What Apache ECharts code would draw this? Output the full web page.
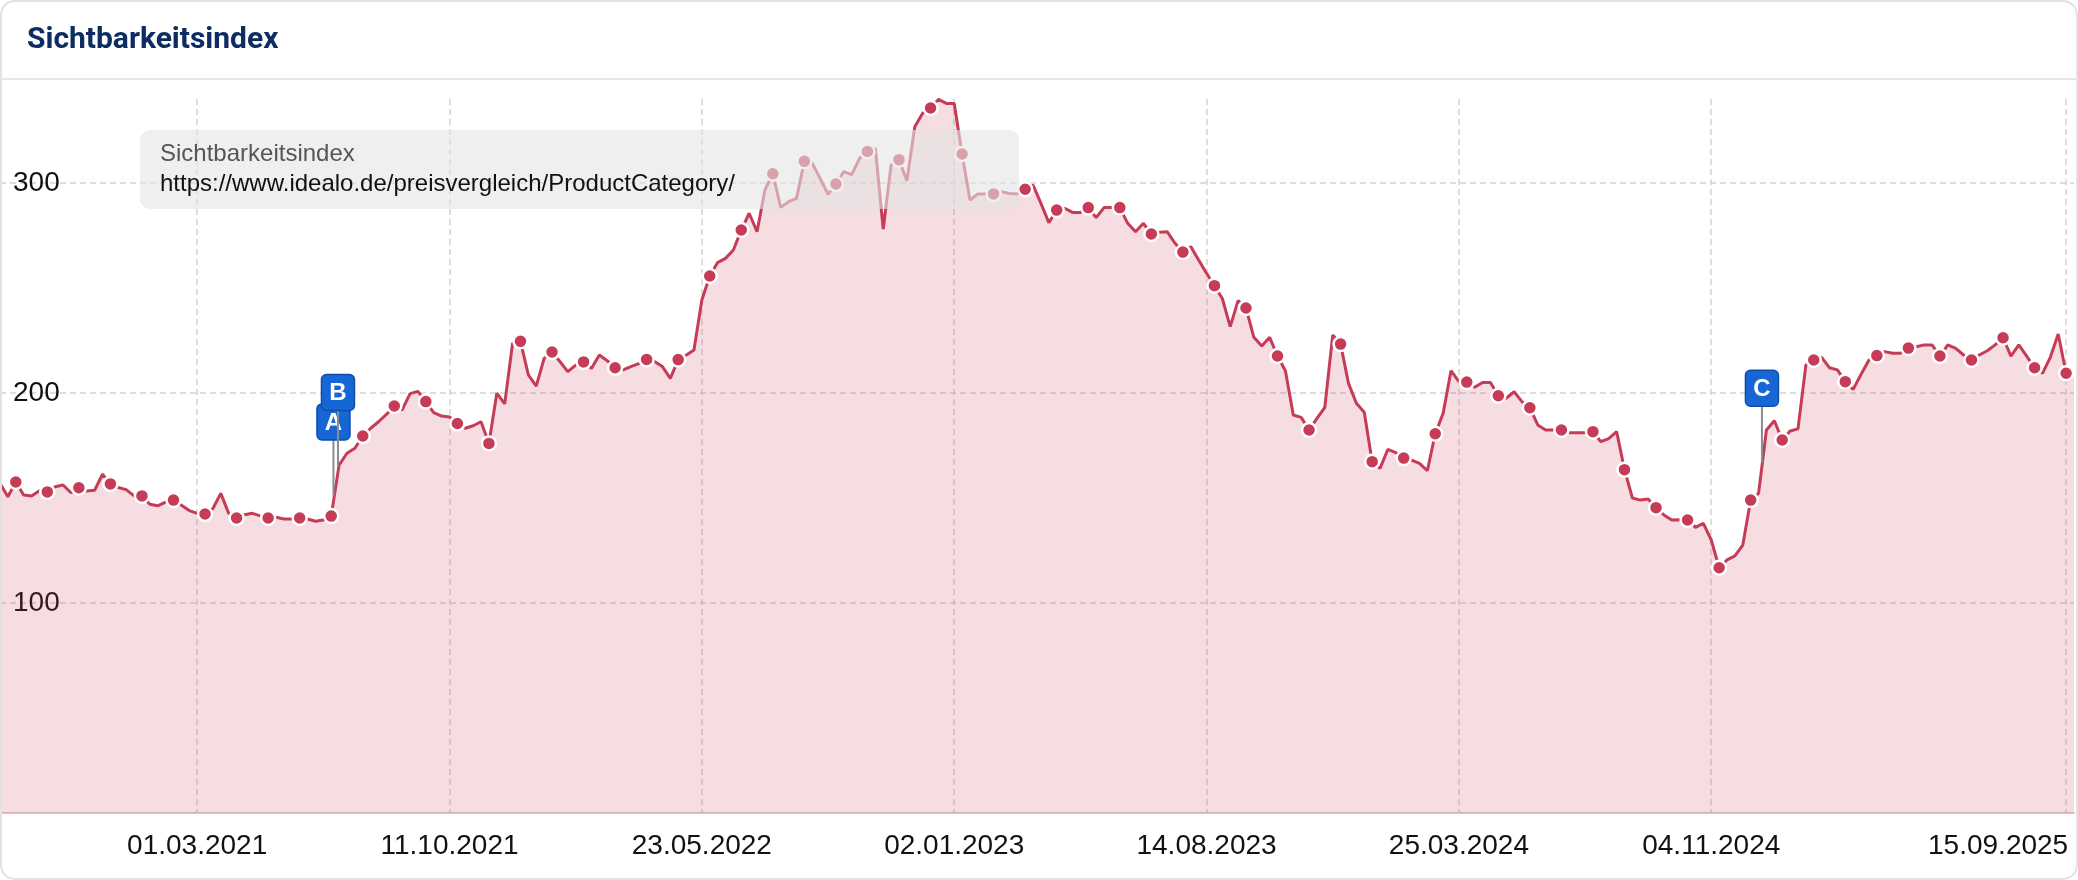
<!DOCTYPE html>
<html><head><meta charset="utf-8">
<script src="https://cdn.jsdelivr.net/npm/echarts@6/dist/echarts.min.js"></script>
<style>html,body{margin:0;padding:0;background:#fff;}#c{width:2078px;height:880px;}</style>
</head><body><div id="c"></div>
<script>
// ---- data ----
const startDate = '2020-09-07'; // first weekly data point (Monday)
const tickLabels = ['01.03.2021','11.10.2021','23.05.2022','02.01.2023','14.08.2023','25.03.2024','04.11.2024','15.09.2025'];
const values = [
157,150.6,157.6,151.4,151,153.5,152.9,155.4,156.2,152.5,
154.9,153.3,153.7,161.3,156.7,155,154,151,151,147,
146.3,148,149,146.5,144,142.7,142.4,145,152.2,142.7,
140.5,142,142.7,141.5,140.5,140.8,140,140,140.5,140,
138.9,139.5,141.4,165.7,171.3,173.7,179.5,183.2,186.3,189.8,
193.8,192,199.7,200.8,195.9,190.6,189,188.6,185.5,183.2,
184.4,186.3,176,199.9,194.8,223.7,224.6,208.6,203.3,216.5,
219.5,215,210.2,213.3,214.8,211.7,218.1,215.4,212,211,
212.6,214,216,215,212.6,207,215.9,218,220.5,244.3,
255.7,262.1,264.1,268.1,277.6,285.6,276.8,296.7,304.4,288.4,
291.1,292.7,310.3,309.4,302.2,294.6,299.5,305.4,304,311.7,
315,316.5,278.1,308.6,311.1,301.1,326.8,333.2,335.7,339.8,
337.9,337.9,313.8,291.9,294.8,294.8,294.8,295.9,295,294.8,
297,299,290.3,281.1,287.1,288,286,286,288.3,283.5,
288.3,288.3,288.3,280.8,276.8,280.8,275.7,276.5,276.8,271.3,
267.1,269.7,263.3,257,251.1,245,231.6,244,240.5,226.5,
222.4,226.5,217.6,210.6,189.5,188.4,182.4,187.9,193.2,227.6,
223.3,204.6,195.1,190.8,167.3,164.1,173.2,171.6,169,168,
166.5,163,180.6,190.3,210.6,205.4,205.2,202.7,205,205,
198.7,197.5,200.6,195.9,193,184.8,182.4,182.4,182.4,181.1,
181.1,181.1,181.6,176.8,178.3,181.6,163.5,150,149,149.5,
145.4,141.9,139.5,139.7,139.5,136,137.9,130,116.8,120.5,
122.4,127.6,149,152.2,182.4,186.8,177.6,181.9,182.9,213.3,
215.7,217,212,211,205.4,201.7,208.9,215.7,217.8,219.7,
218.9,218.9,221.4,222,222.9,222.9,217.6,222.9,221.3,218.1,
215.7,218.1,220.1,222.9,226.3,217.6,222.9,217.6,212,209.4,
217,228.1,209.4,209.4
];
const flagLabels = ['A','B','C'];
const flagDates = ['2021-06-30','2021-07-04','2024-12-19'];
const flagValues = [151, 165, 167];
const chartTitle = 'Sichtbarkeitsindex';
const legendTitle = 'Sichtbarkeitsindex';
const legendUrl = 'https://www.idealo.de/preisvergleich/ProductCategory/';

// ---- build ----
const DAY = 86400000;
const t0 = Date.parse(startDate + 'T00:00:00Z');
function fmt(t){const d=new Date(t);const p=n=>String(n).padStart(2,'0');return p(d.getUTCDate())+'.'+p(d.getUTCMonth()+1)+'.'+d.getUTCFullYear();}
const categories = values.map((v,i)=>fmt(t0 + i*7*DAY));
const flagData = flagLabels.map((l,k)=>[(Date.parse(flagDates[k]+'T00:00:00Z')-t0)/(7*DAY), flagValues[k], l]);
const lastTick = tickLabels[tickLabels.length-1];
const showTick = (i, v) => tickLabels.indexOf(v) >= 0;

const RED = '#c63c57';
const FONT = "'Liberation Sans', Arial, Helvetica, sans-serif";
const chart = echarts.init(document.getElementById('c'), null, {renderer:'canvas'});
chart.setOption({
  animation: false,
  title: {text: chartTitle, left: 22, top: 20, textStyle: {fontFamily: 'Roboto', fontWeight: 'bold', fontSize: 30, color: '#0d2d62'}},
  grid: {left: 0, right: 4, top: 99, bottom: 67},
  xAxis: [{
    type: 'category', data: categories, boundaryGap: false,
    axisLine: {lineStyle: {color: '#d9c9cd', width: 2}},
    axisTick: {show: false},
    axisLabel: {interval: showTick, fontSize: 28, color: '#111', margin: 19, fontFamily: FONT,
      formatter: v => v === lastTick ? '{r|' + v + '}' : v,
      rich: {r: {fontSize: 28, color: '#111', fontFamily: FONT, padding: [0, 136, 0, 0]}}},
    splitLine: {show: true, interval: showTick, lineStyle: {color: '#d4d4d4', type: [6, 4], width: 1.5}}
  }, {
    type: 'value', min: 0, max: values.length - 1, show: false
  }],
  yAxis: {
    type: 'value', min: 0, max: 340, interval: 100,
    axisLine: {show: false}, axisTick: {show: false},
    axisLabel: {inside: true, margin: 13, fontSize: 28, color: '#111', fontFamily: FONT, showMaxLabel: false, showMinLabel: false},
    splitLine: {show: true, showMinLine: false, showMaxLine: false, lineStyle: {color: '#d4d4d4', type: [6, 4], width: 1.5}}
  },
  series: [{
    type: 'line', data: values, showAllSymbol: true,
    symbol: (v, p) => (p.dataIndex % 4 === 2 ? 'circle' : 'none'),
    symbolSize: 14,
    lineStyle: {color: RED, width: 3},
    itemStyle: {color: RED, borderColor: '#fff', borderWidth: 2.5},
    areaStyle: {color: 'rgba(200,60,88,0.25)'},
    z: 3
  }, {
    type: 'custom', xAxisIndex: 1, data: flagData, clip: false, z: 10,
    renderItem: (params, api) => {
      const p = api.coord([api.value(0), api.value(1)]);
      const stem = 56, bw = 33, bh = 36;
      const lab = flagData[params.dataIndex][2];
      return {type: 'group', children: [
        {type: 'line', shape: {x1: p[0], y1: p[1], x2: p[0], y2: p[1] - stem}, style: {stroke: '#8c8c8c', lineWidth: 2}},
        {type: 'rect', shape: {x: p[0] - bw/2, y: p[1] - stem - bh, width: bw, height: bh, r: 5}, style: {fill: '#1766d6', stroke: '#0c4ea8', lineWidth: 1.5}},
        {type: 'text', style: {x: p[0], y: p[1] - stem - bh/2 + 1, text: lab, fill: '#fff', font: "bold 24px 'Liberation Sans', Arial, sans-serif", textAlign: 'center', textVerticalAlign: 'middle'}}
      ]};
    }
  }],
  graphic: [
    {type: 'rect', shape: {x: 1, y: 1, width: 2076, height: 878, r: 14}, style: {fill: 'none', stroke: '#e2e2e2', lineWidth: 2}, z: 200, silent: true},
    {type: 'line', shape: {x1: 0, y1: 79, x2: 2078, y2: 79}, style: {stroke: '#e6e6e6', lineWidth: 2}, z: 200, silent: true},
    {type: 'rect', shape: {x: 140, y: 130, width: 879, height: 79, r: 10}, style: {fill: 'rgba(228,228,228,0.6)'}, z: 100, silent: true},
    {type: 'text', style: {x: 160, y: 154, text: legendTitle, fill: '#555', font: "24px 'Liberation Sans', Arial, sans-serif", textVerticalAlign: 'middle'}, z: 101, silent: true},
    {type: 'text', style: {x: 160, y: 184, text: legendUrl, fill: '#111', font: "24px 'Liberation Sans', Arial, sans-serif", textVerticalAlign: 'middle'}, z: 101, silent: true}
  ]
});
</script></body></html>
